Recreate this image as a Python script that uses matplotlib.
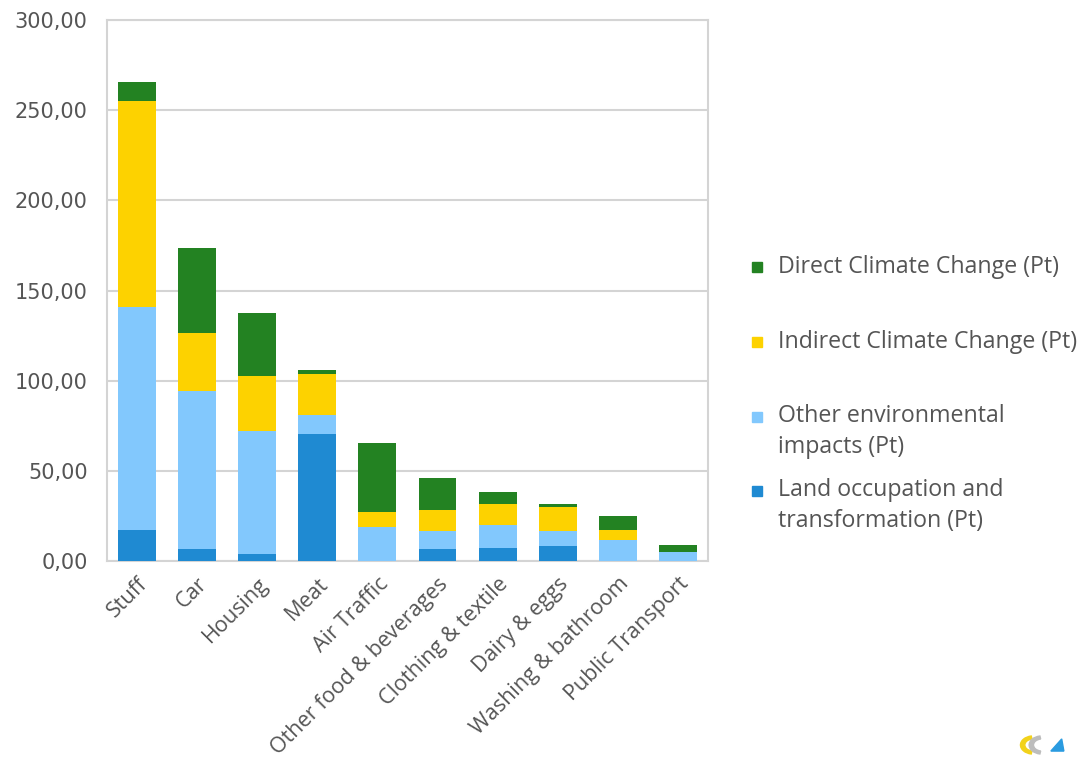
import matplotlib.pyplot as plt
import numpy as np
from matplotlib.patches import Rectangle, Polygon, Wedge
from matplotlib.ticker import FuncFormatter

plt.rcParams["font.family"] = ["Open Sans", "DejaVu Sans"]

categories = ["Stuff", "Car", "Housing", "Meat", "Air Traffic",
              "Other food & beverages", "Clothing & textile", "Dairy & eggs",
              "Washing & bathroom", "Public Transport"]

land = [17.2, 6.5, 3.9, 70.2, 0.0, 6.6, 7.4, 8.3, 0.0, 0.0]
other = [123.6, 87.6, 68.3, 10.6, 19.0, 10.0, 12.5, 8.3, 11.6, 4.8]
indirect = [114.5, 32.5, 30.2, 23.1, 8.3, 11.6, 11.7, 13.5, 5.6, 0.0]
direct = [10.1, 46.9, 35.1, 1.9, 38.4, 17.6, 6.6, 1.5, 7.7, 4.1]

series = [
    ("Land occupation and\ntransformation (Pt)", land, "#1f8ad2"),
    ("Other environmental\nimpacts (Pt)", other, "#82c8fd"),
    ("Indirect Climate Change (Pt)", indirect, "#fdd200"),
    ("Direct Climate Change (Pt)", direct, "#238222"),
]

text_gray = "#555555"
grid_gray = "#d4d4d4"

fig = plt.figure(figsize=(10.85, 7.6), dpi=100)
ax = fig.add_axes([0.0986, 0.2618, 0.5539, 0.7119])

x = np.arange(len(categories))
bottom = np.zeros(len(categories))
for label, vals, color in series:
    vals = np.array(vals)
    ax.bar(x, vals, 0.63, bottom=bottom, color=color, zorder=3)
    bottom += vals

ax.set_xlim(-0.5, len(categories) - 0.5)
ax.set_ylim(0, 300)
ax.set_yticks(np.arange(0, 301, 50))
ax.yaxis.set_major_formatter(FuncFormatter(lambda v, _: f"{v:.2f}".replace(".", ",")))
ax.grid(axis="y", color=grid_gray, linewidth=1.5, zorder=0)
for s in ax.spines.values():
    s.set_color(grid_gray)
    s.set_linewidth(1.5)
ax.tick_params(length=0, colors=text_gray)
ax.tick_params(axis="y", pad=14)
for t in ax.get_yticklabels():
    t.set_fontfamily("DejaVu Sans")
    t.set_fontsize(15)
ax.set_xticks(x)
ax.set_xticklabels(categories, rotation=45, ha="right", rotation_mode="anchor",
                   fontsize=15.5)
ax.tick_params(axis="x", pad=9)

# legend, drawn top to bottom in reverse stacking order
first_baselines = [273, 348, 423, 497]   # px from top, first line of each entry
line_gap = 30
for (label, _, color), base in zip(series[::-1], first_baselines):
    yb = 1 - base / 760
    nlines = label.count("\n") + 1
    fig.patches.append(Rectangle((752 / 1085, yb + 1 / 760), 10 / 1085, 10 / 760,
                                 transform=fig.transFigure, color=color))
    # multi-line baseline alignment uses the last line
    fig.text(778 / 1085, yb - (nlines - 1) * line_gap / 760, label, fontsize=16.7,
             color=text_gray, va="baseline", ha="left", linespacing=1.4)

# small logo in the corner
lx, ly = 1040 / 1085, 1 - 745 / 760
fig.patches.append(Wedge((lx - 0.006, ly), 0.012, 100, 260, width=0.004,
                         transform=fig.transFigure, color="#f2d21b"))
fig.patches.append(Wedge((lx + 0.002, ly), 0.012, 100, 260, width=0.004,
                         transform=fig.transFigure, color="#bdbdbd"))
fig.patches.append(Polygon([(lx + 0.010, ly - 0.008), (lx + 0.022, ly - 0.008),
                            (lx + 0.020, ly + 0.008)],
                           transform=fig.transFigure, color="#2a9be0"))

fig.savefig("out.png", dpi=100, facecolor="white")
